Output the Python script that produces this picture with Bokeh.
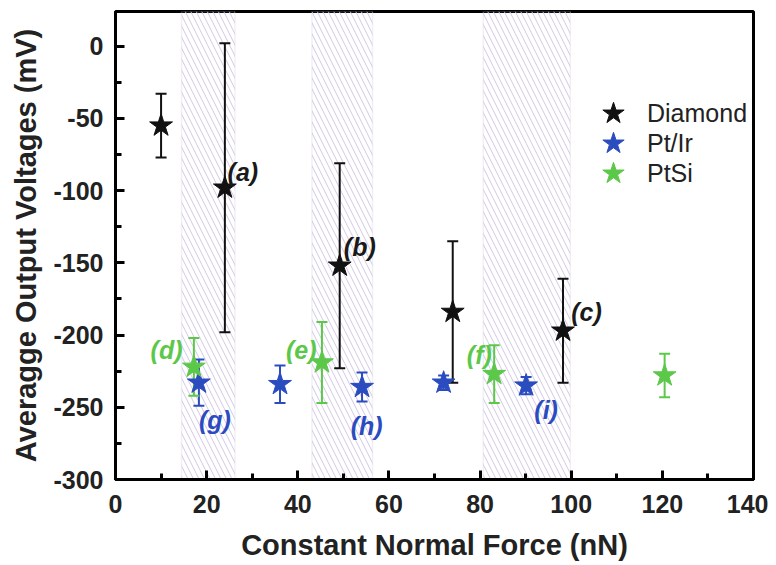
from bokeh.plotting import figure
from bokeh.models import (ColumnDataSource, Whisker, TeeHead, BoxAnnotation,
                          SingleIntervalTicker, Range1d, Legend, PrintfTickFormatter)
from bokeh.core.properties import value
from bokeh.embed import file_html
from bokeh.resources import INLINE

# ---- data ----
diamond_x = [10.0, 24.0, 49.2, 74.0, 98.2]
diamond_y = [-55, -98, -152, -184, -197]
diamond_err = [22, 100, 71, 49, 36]

ptir_x = [18.3, 36.1, 54.1, 72.0, 90.1]
ptir_y = [-233, -234, -236, -233, -235]
ptir_err = [16, 13, 10, 5, 6]

ptsi_x = [17.2, 45.3, 83.1, 120.5]
ptsi_y = [-222, -219, -227, -228]
ptsi_err = [20, 28, 20, 15]

shade_left = [14.5, 43.1, 80.7]
shade_right = [26.2, 56.4, 99.8]

lab_black = ["(a)", "(b)", "(c)"]
lab_black_x = [24.6, 50.1, 100.0]
lab_black_y = [-87, -139, -184]
lab_green = ["(d)", "(e)", "(f)"]
lab_green_x = [7.7, 37.4, 77.1]
lab_green_y = [-210, -210, -214]
lab_blue = ["(g)", "(h)", "(i)"]
lab_blue_x = [18.3, 51.6, 91.9]
lab_blue_y = [-259, -263, -252]

legend_names = ["Diamond", "Pt/Ir", "PtSi"]

BLACK = "#111111"
BLUE = "#2b4cbf"
GREEN = "#5cc84a"
FONT = "Liberation Sans"

p = figure(width=768, height=563, output_backend="svg", toolbar_location=None,
           x_range=Range1d(0, 140), y_range=Range1d(-300, 24),
           min_border_left=115, min_border_right=15, min_border_top=11,
           min_border_bottom=82)
p.grid.visible = False
p.outline_line_color = "black"
p.outline_line_width = 3

for l, r in zip(shade_left, shade_right):
    p.add_layout(BoxAnnotation(left=l, right=r, fill_color="white", fill_alpha=0.0,
                               line_color="#cdcde0", line_width=1.5,
                               hatch_pattern="\\", hatch_color="#d2c8e2",
                               hatch_scale=11, hatch_weight=1, level="underlay"))

def series(xs, ys, errs, color, lw):
    src = ColumnDataSource(dict(x=xs, y=ys,
                                up=[a + e for a, e in zip(ys, errs)],
                                lo=[a - e for a, e in zip(ys, errs)]))
    w = Whisker(source=src, base="x", upper="up", lower="lo", dimension="height",
                line_color=color, line_width=lw,
                upper_head=TeeHead(size=11, line_color=color, line_width=lw),
                lower_head=TeeHead(size=11, line_color=color, line_width=lw))
    p.add_layout(w)
    return p.scatter("x", "y", source=src, marker="star", size=24, color=color)

r1 = series(diamond_x, diamond_y, diamond_err, BLACK, 2)
r2 = series(ptir_x, ptir_y, ptir_err, BLUE, 2)
r3 = series(ptsi_x, ptsi_y, ptsi_err, GREEN, 2)

def labels(xs, ys, ts, color):
    p.text(x=xs, y=ys, text=ts, text_color=color, text_font=value(FONT),
           text_font_size="25px", text_font_style="bold italic",
           text_align="left", text_baseline="middle")

labels(lab_black_x, lab_black_y, lab_black, "#1a1a1a")
labels(lab_green_x, lab_green_y, lab_green, GREEN)
labels(lab_blue_x, lab_blue_y, lab_blue, BLUE)

# one single-item legend per row so the stars can be large and rows close
for i, (name, r) in enumerate(zip(legend_names, [r1, r2, r3])):
    lg = Legend(items=[(name, [r])], location=(470, 338 - 30 * i),
                border_line_color=None, background_fill_alpha=0, padding=0,
                glyph_width=56, glyph_height=56, label_standoff=6,
                label_text_font=FONT, label_text_font_size="25px",
                label_text_color="#222222", label_height=56)
    p.add_layout(lg)

p.xaxis.ticker = SingleIntervalTicker(interval=20, num_minor_ticks=2)
p.yaxis.ticker = SingleIntervalTicker(interval=50, num_minor_ticks=2)
for ax in (p.xaxis, p.yaxis):
    ax.formatter = PrintfTickFormatter(format="%d")
    ax.axis_line_width = 3
    ax.major_tick_line_width = 3
    ax.minor_tick_line_width = 3
    ax.major_tick_in = 9
    ax.major_tick_out = 0
    ax.minor_tick_in = 6
    ax.minor_tick_out = 0
    ax.major_label_text_font = FONT
    ax.major_label_text_font_size = "25px"
    ax.major_label_text_font_style = "bold"
    ax.major_label_text_color = "#222222"
    ax.axis_label_text_font = FONT
    ax.axis_label_text_font_size = "29px"
    ax.axis_label_text_font_style = "bold"
    ax.axis_label_text_color = "#222222"

p.xaxis.axis_label = "Constant Normal Force (nN)"
p.yaxis.axis_label = "Averagge Output Voltages (mV)"
p.xaxis.major_label_standoff = 15
p.xaxis.axis_label_standoff = 13
p.yaxis.major_label_standoff = 12
p.yaxis.axis_label_standoff = 8

open("out.html", "w").write(file_html(p, INLINE))
